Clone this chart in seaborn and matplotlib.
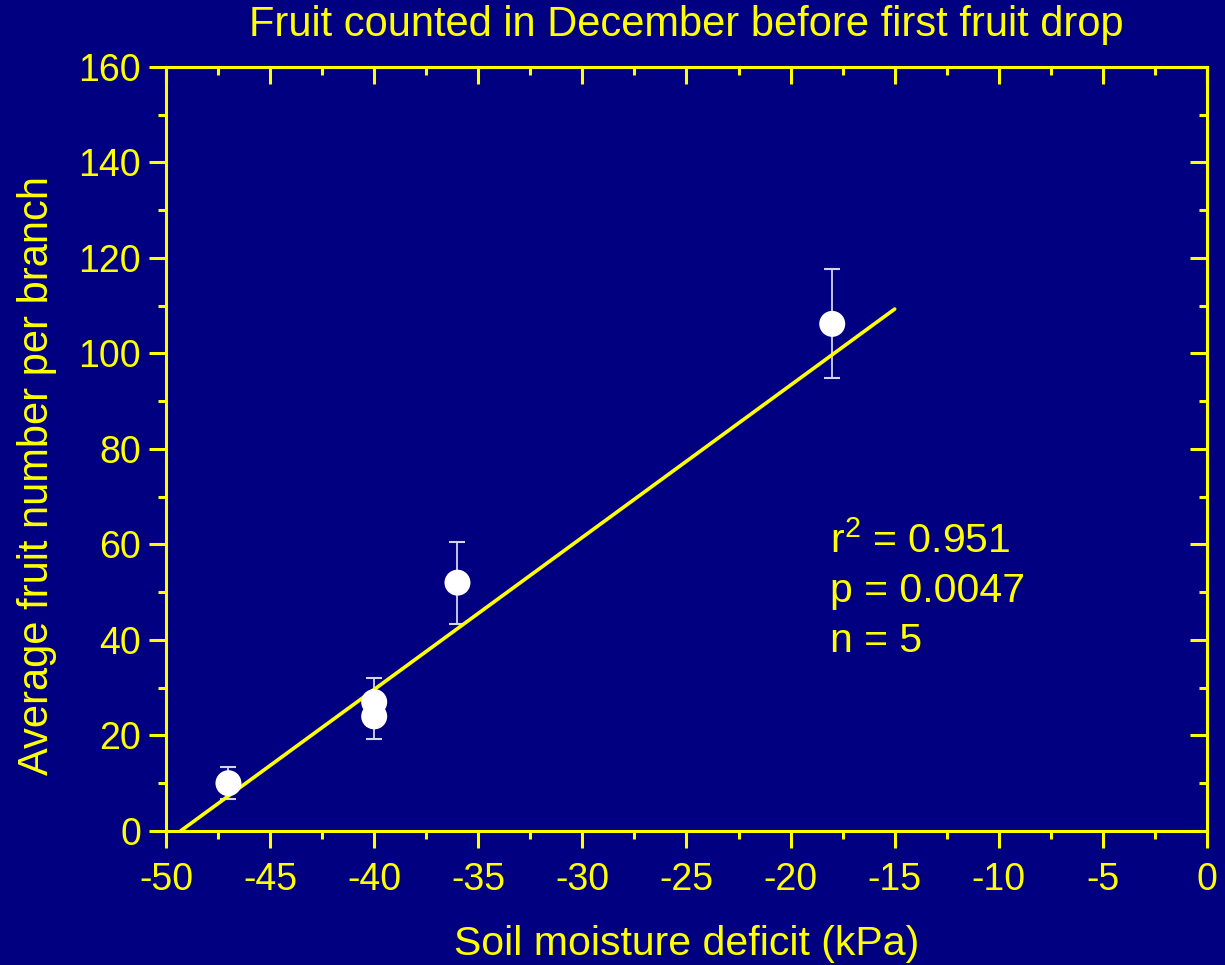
import numpy as np
import pandas as pd
import seaborn as sns
import matplotlib.pyplot as plt
from matplotlib.ticker import MultipleLocator

# data
moisture = [-47, -40, -40, -36, -18]          # soil moisture deficit (kPa)
fruit = [10, 27, 24, 52, 106.2]               # average fruit number per branch
fruit_err = [3.4, 5.0, 4.7, 8.6, 11.4]        # error bars
fit_x = [-49.3, -15]                          # regression line ends
fit_y = [0, 109.3]
stats = ['r$^{2}$ = 0.951', 'p = 0.0047', 'n = 5']

navy = '#000080'
yellow = '#ffff00'

sns.set_style('ticks')
plt.rcParams['font.family'] = ['Liberation Sans', 'DejaVu Sans']
plt.rcParams['axes.unicode_minus'] = False
plt.rcParams['mathtext.fontset'] = 'custom'
plt.rcParams['mathtext.rm'] = 'Liberation Sans'
plt.rcParams['mathtext.it'] = 'Liberation Sans'

df = pd.DataFrame({'x': moisture, 'y': fruit})
fit = pd.DataFrame({'x': fit_x, 'y': fit_y})

fig = plt.figure(figsize=(12.25, 9.65), dpi=100, facecolor=navy)
ax = fig.add_axes([0.1355, 0.1389, 0.8498, 0.7917])
ax.set_facecolor(navy)

# error bars under the markers
ax.errorbar(moisture, fruit, yerr=fruit_err, fmt='none', ecolor='#d4d4ec',
            elinewidth=1.3, capsize=6, capthick=1.5, zorder=2)
sns.lineplot(data=fit, x='x', y='y', ax=ax, color=yellow, linewidth=2.6, zorder=3)
sns.scatterplot(data=df, x='x', y='y', ax=ax, color='white', s=350,
                edgecolor='none', zorder=4)

ax.set_xlim(-50, 0)
ax.set_ylim(0, 160)
ax.xaxis.set_major_locator(MultipleLocator(5))
ax.xaxis.set_minor_locator(MultipleLocator(2.5))
ax.yaxis.set_major_locator(MultipleLocator(20))
ax.yaxis.set_minor_locator(MultipleLocator(10))

for s in ax.spines.values():
    s.set_color(yellow)
    s.set_linewidth(2.2)

ax.tick_params(axis='both', which='both', direction='out', color=yellow,
               width=2.2, labelcolor=yellow, labelsize=27)
ax.tick_params(which='major', length=12)
ax.tick_params(which='minor', length=6)
ax.tick_params(axis='x', pad=10)
ax.tick_params(axis='y', pad=6)

# inward ticks on top and right
top = ax.secondary_xaxis('top')
top.xaxis.set_major_locator(MultipleLocator(5))
top.xaxis.set_minor_locator(MultipleLocator(2.5))
right = ax.secondary_yaxis('right')
right.yaxis.set_major_locator(MultipleLocator(20))
right.yaxis.set_minor_locator(MultipleLocator(10))
for sec in (top, right):
    for s in sec.spines.values():
        s.set_color(yellow)
        s.set_linewidth(2.2)
    sec.tick_params(which='both', direction='in', color=yellow, width=2.2,
                    labelleft=False, labelright=False, labeltop=False, labelbottom=False)
    sec.tick_params(which='major', length=12)
    sec.tick_params(which='minor', length=6)

ax.set_xlabel('Soil moisture deficit (kPa)', color=yellow, fontsize=29.5, labelpad=20)
ax.set_ylabel('Average fruit number per branch', color=yellow, fontsize=30)
ax.yaxis.set_label_coords(-0.105, 0.465)
ax.set_title('Fruit counted in December before first fruit drop', color=yellow,
             fontsize=30, pad=22)

# fit statistics
for i, txt in enumerate(stats):
    ax.text(-18.1, 58.4 - 10.5 * i, txt, color=yellow, fontsize=29.5,
            ha='left', va='baseline')

fig.savefig('out.png', dpi=100, facecolor=navy)
